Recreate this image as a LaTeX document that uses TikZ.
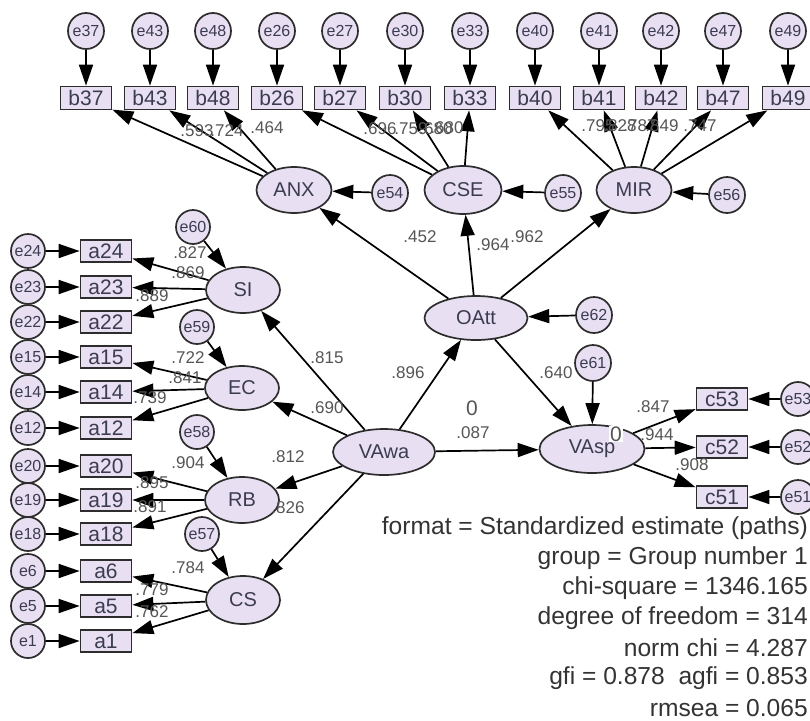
\documentclass[tikz,border=0pt]{standalone}
\usepackage{fontspec}
\setmainfont{Liberation Sans}
\usetikzlibrary{arrows.meta,shapes.geometric}
\definecolor{fillc}{RGB}{232,224,242}
\definecolor{linec}{RGB}{45,45,45}
\definecolor{txtc}{RGB}{60,60,80}
\definecolor{labc}{RGB}{85,85,85}
\begin{document}
\begin{tikzpicture}[x=1pt,y=-1pt,
  lat/.style={ellipse, draw=linec, line width=1.7pt, fill=fillc, minimum width=75pt, minimum height=46pt, inner sep=0pt, font=\fontsize{20}{22}\selectfont, text=txtc},
  obs/.style={rectangle, draw=linec, line width=1.7pt, fill=fillc, minimum width=51pt, minimum height=22pt, inner sep=0pt, font=\fontsize{21}{22}\selectfont, text=txtc},
  err/.style={circle, draw=linec, line width=1.7pt, fill=fillc, minimum size=36pt, inner sep=0pt, font=\fontsize{16}{17}\selectfont, text=txtc},
  errs/.style={err, minimum size=34pt},
  arr/.style={draw=black, line width=1.7pt, -{Triangle[length=21pt,width=14pt]}},
  lab/.style={font=\fontsize{17}{18}\selectfont, text=labc, inner sep=0pt},
  info/.style={font=\fontsize{24.6}{26}\selectfont, text=black!80, inner sep=0pt, anchor=east},
]
\useasboundingbox (0,0) rectangle (810,720);
% top indicators
\foreach \n/\x in {37/86,43/150,48/213,26/277,27/340,30/405,33/470,40/535,41/599,42/661,47/723,49/788}{
  \node[err] (e\n) at (\x,31) {e\n};
  \node[obs, minimum height=23pt] (b\n) at (\x,98) {b\n};
  \draw[arr] (e\n) -- (b\n);
}
% latent top row
\node[lat] (ANX) at (294,190) {ANX};
\node[lat, minimum width=77pt, minimum height=48pt] (CSE) at (463,190) {CSE};
\node[lat] (MIR) at (634,190) {MIR};
\node[err] (e54) at (390,193) {e54};
\node[err] (e55) at (563,193) {e55};
\node[err] (e56) at (727,195) {e56};
\draw[arr] (e54) -- (ANX);
\draw[arr] (e55) -- (CSE);
\draw[arr] (e56) -- (MIR);
\foreach \b in {37,43,48} \draw[arr] (ANX) -- (b\b);
\foreach \b in {26,27,30,33} \draw[arr] (CSE) -- (b\b);
\foreach \b in {40,41,42,47,49} \draw[arr] (MIR) -- (b\b);
% central
\node[lat, minimum width=103pt, minimum height=44pt] (OAtt) at (476,318) {OAtt};
\node[err] (e62) at (594,315) {e62};
\node[lat, minimum width=102pt, minimum height=46pt] (VAwa) at (384,452) {VAwa};
\node[lat, minimum width=105pt, minimum height=48pt] (VAsp) at (592,449) {VAsp};
\node[err] (e61) at (593,363) {e61};
\draw[arr] (e62) -- (OAtt);
\draw[arr] (e61) -- (VAsp);
\draw[arr] (OAtt) -- (ANX);
\draw[arr] (OAtt) -- (CSE);
\draw[arr] (OAtt) -- (MIR);
\draw[arr] (VAwa) -- (OAtt);
\draw[arr] (OAtt) -- (VAsp);
\draw[arr] (VAwa) -- (VAsp);
% right indicators
\foreach \n/\y in {53/399,52/447,51/497}{
  \node[obs] (c\n) at (722,\y) {c\n};
  \node[errs] (e\n) at (798,\y) {e\n};
  \draw[arr] (e\n) -- (c\n);
  \draw[arr] (VAsp) -- (c\n);
}
% left latent
\node[lat, minimum width=74pt] (SI) at (243,290) {SI};
\node[lat, minimum width=74pt, minimum height=44pt] (EC) at (242,388) {EC};
\node[lat, minimum width=74pt] (RB) at (242,500) {RB};
\node[lat, minimum width=74pt, minimum height=48pt] (CS) at (243,600) {CS};
\node[errs] (e60) at (193,227) {e60};
\node[errs] (e59) at (197,327) {e59};
\node[errs] (e58) at (197,432) {e58};
\node[errs] (e57) at (202,534) {e57};
\draw[arr] (e60) -- (SI);
\draw[arr] (e59) -- (EC);
\draw[arr] (e58) -- (RB);
\draw[arr] (e57) -- (CS);
\draw[arr] (VAwa) -- (SI);
\draw[arr] (VAwa) -- (EC);
\draw[arr] (VAwa) -- (RB);
\draw[arr] (VAwa) -- (CS);
% left indicators
\foreach \n/\y/\f in {24/251/SI,23/287/SI,22/322/SI,15/357/EC,14/392/EC,12/428/EC,20/466/RB,19/500/RB,18/534/RB,6/571/CS,5/606/CS,1/641/CS}{
  \node[obs] (a\n) at (106,\y) {a\n};
  \node[errs] (e\n) at (28,\y) {e\n};
  \draw[arr] (e\n) -- (a\n);
  \draw[arr] (\f) -- (a\n);
}
% loading labels top
\node[lab] (l1) at (197,131) {.593};
\node[lab] (l2) at (227,131) {.724};
\node[lab] (l3) at (267,128) {.464};
\node[lab] (l4) at (380,129) {.696};
\node[lab] (l5) at (411,129) {.759};
\node[lab] (l6) at (436,129) {.680};
\node[lab] (l7) at (447,128) {.680};
\node[lab] (l8) at (598,126) {.795};
\node[lab] (l9) at (620,126) {.828};
\node[lab] (l10) at (640,126) {.787};
\node[lab] (l11) at (662,126) {.849};
\node[lab] (l12) at (700,126) {.747};
% left labels
\node[lab] (l13) at (190,253) {.827};
\node[lab] (l14) at (188,273) {.869};
\node[lab] (l15) at (152,296) {.889};
\node[lab] (l16) at (188,358) {.722};
\node[lab] (l17) at (185,378) {.841};
\node[lab] (l18) at (150,398) {.739};
\node[lab] (l19) at (188,463) {.904};
\node[lab] (l20) at (152,483) {.895};
\node[lab] (l21) at (150,507) {.891};
\node[lab] (l22) at (188,568) {.784};
\node[lab] (l23) at (152,590) {.779};
\node[lab] (l24) at (152,612) {.762};
% structural labels
\node[lab] (l25) at (327,358) {.815};
\node[lab] (l26) at (327,408) {.690};
\node[lab] (l27) at (288,457) {.812};
\node[lab] (l28) at (288,508) {.826};
\node[lab] (l29) at (408,373) {.896};
\node[lab] (l30) at (556,373) {.640};
\node[lab] (l31) at (420,237) {.452};
\node[lab] (l32) at (493,245) {.964};
\node[lab] (l33) at (527,237) {.962};
\node[lab] (l34) at (473,433) {.087};
\node[lab, font=\fontsize{21}{22}\selectfont] (l35) at (472,408) {0};
\node[lab, font=\fontsize{21}{22}\selectfont, fill=white, inner sep=1pt] (l36) at (616,434) {0};
\node[lab] (l37) at (653,407) {.847};
\node[lab] (l38) at (657,435) {.944};
\node[lab] (l39) at (692,465) {.908};
% fit info
\node[info] (t1) at (808,528) {format = Standardized estimate (paths)};
\node[info] (t2) at (808,558) {group = Group number 1};
\node[info] (t3) at (808,588) {chi-square = 1346.165};
\node[info] (t4) at (808,618) {degree of freedom = 314};
\node[info] (t5) at (808,648) {norm chi = 4.287};
\node[info] (t6) at (808,678) {gfi = 0.878\ \ agfi = 0.853};
\node[info] (t7) at (808,708) {rmsea = 0.065};
\end{tikzpicture}
\end{document}
